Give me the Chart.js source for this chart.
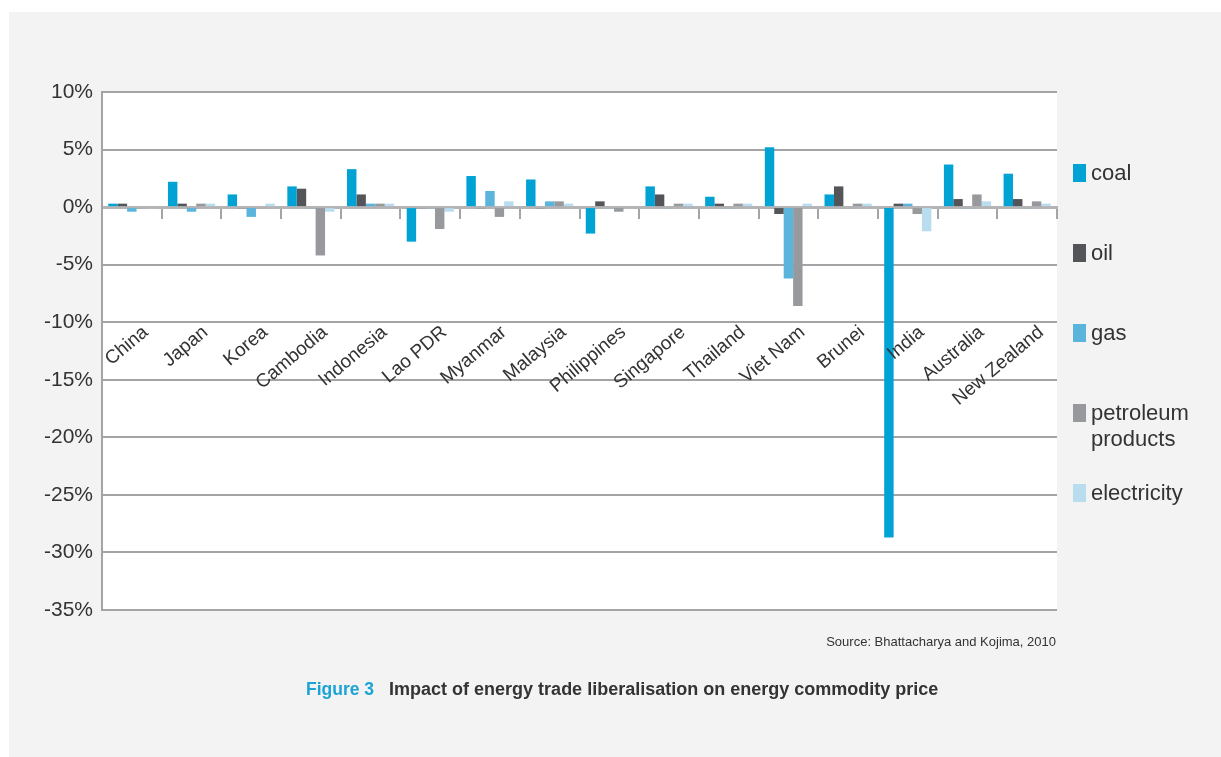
<!DOCTYPE html>
<html>
<head>
<meta charset="utf-8">
<script src="https://cdn.jsdelivr.net/npm/chart.js"></script>
<style>
    body { margin: 0; background: #ffffff; font-family: "Liberation Sans", Arial, sans-serif; }
    #panel { position: absolute; left: 9px; top: 12px; width: 1212px; height: 745px; background: #f2f3f2; }
    #chart { position: absolute; left: 0; top: 0; }
    .legend-item { position: absolute; left: 1073px; font-size: 22px; line-height: 26px; color: #333; }
    .legend-box { position: absolute; left: 0; top: 4px; width: 13px; height: 18px; }
    .legend-text { position: absolute; left: 18px; top: 0; white-space: pre; }
    #source { position: absolute; right: 165px; top: 634px; font-size: 13px; line-height: 16px; color: #333; }
    #title { position: absolute; left: 306px; top: 679px; font-size: 18px; line-height: 20px; font-weight: bold; color: #333; white-space: pre; }
    #title span { color: #1ba3d6; font-size: 17.5px; }
</style>
</head>
<body>
<div id="panel"></div>
<canvas id="chart" width="1221" height="757"></canvas>
<div id="legend"></div>
<div id="source">Source: Bhattacharya and Kojima, 2010</div>
<div id="title"><span>Figure 3</span>   Impact of energy trade liberalisation on energy commodity price</div>

<script>
// data (% change in price)
const countries = ['China', 'Japan', 'Korea', 'Cambodia', 'Indonesia', 'Lao PDR', 'Myanmar', 'Malaysia',
    'Philippines', 'Singapore', 'Thailand', 'Viet Nam', 'Brunei', 'India', 'Australia', 'New Zealand'];

const coal = [0.3, 2.2, 1.1, 1.8, 3.3, -3.0, 2.7, 2.4, -2.3, 1.8, 0.9, 5.2, 1.1, -28.7, 3.7, 2.9];
const oil = [0.3, 0.3, -0.1, 1.6, 1.1, -0.1, -0.1, -0.1, 0.5, 1.1, 0.3, -0.6, 1.8, 0.3, 0.7, 0.7];
const gas = [-0.4, -0.4, -0.85, -0.1, 0.3, -0.1, 1.4, 0.5, -0.1, -0.1, -0.1, -6.2, -0.1, 0.3, -0.1, -0.1];
const petroleum = [-0.1, 0.3, -0.1, -4.2, 0.3, -1.9, -0.85, 0.5, -0.4, 0.3, 0.3, -8.6, 0.3, -0.6, 1.1, 0.5];
const electricity = [-0.1, 0.3, 0.3, -0.4, 0.3, -0.4, 0.5, 0.3, -0.1, 0.3, 0.3, 0.3, 0.3, -2.1, 0.5, 0.3];

const seriesNames = ['coal', 'oil', 'gas', 'petroleum\nproducts', 'electricity'];
const seriesColors = ['#00a3d4', '#545558', '#5ab4dc', '#98999d', '#badcef'];
const yTicks = [10, 5, 0, -5, -10, -15, -20, -25, -30, -35];

const gridColor = '#a4a4a7';
const labelFont = '"Liberation Sans", Arial, sans-serif';

// white plot area
const plotBackground = {
    id: 'plotBackground',
    beforeDraw(chart) {
        const a = chart.chartArea;
        const ctx = chart.ctx;
        ctx.save();
        ctx.fillStyle = '#ffffff';
        ctx.fillRect(a.left, a.top, a.right - a.left, a.bottom - a.top);
        ctx.restore();
    }
};

function buildLegend() {
    const holder = document.getElementById('legend');
    seriesNames.forEach((name, i) => {
        const item = document.createElement('div');
        item.className = 'legend-item';
        item.style.top = (160 + i * 80) + 'px';
        const box = document.createElement('div');
        box.className = 'legend-box';
        box.style.background = seriesColors[i];
        const text = document.createElement('div');
        text.className = 'legend-text';
        text.textContent = name;
        item.appendChild(box);
        item.appendChild(text);
        holder.appendChild(item);
    });
}

function renderChart() {
    const series = [coal, oil, gas, petroleum, electricity];
    const datasets = series.map((values, i) => ({
        label: seriesNames[i],
        data: values,
        backgroundColor: seriesColors[i],
        borderWidth: 0,
        categoryPercentage: 0.79,
        barPercentage: 1.0
    }));

    new Chart(document.getElementById('chart'), {
        type: 'bar',
        data: { labels: countries, datasets: datasets },
        plugins: [plotBackground],
        options: {
            responsive: false,
            animation: false,
            layout: { padding: { top: 92, right: 164, bottom: 147, left: 0 } },
            plugins: {
                legend: { display: false },
                tooltip: { enabled: false }
            },
            scales: {
                x: {
                    position: { y: 0 },
                    // rotated labels sit inside the plot, so they should not push it inwards
                    afterFit: (scale) => {
                        scale.paddingLeft = 0;
                        scale.paddingRight = 0;
                    },
                    grid: {
                        drawOnChartArea: false,
                        drawTicks: true,
                        tickLength: 10,
                        color: gridColor,
                        lineWidth: 2
                    },
                    border: { display: true, color: '#b4b4b7', width: 3 },
                    ticks: {
                        z: 1,   // names go over the bars (India)
                        autoSkip: false,
                        minRotation: 40,
                        maxRotation: 40,
                        padding: 104,
                        labelOffset: 14,
                        color: '#333',
                        font: { family: labelFont, size: 19 }
                    }
                },
                y: {
                    min: yTicks[yTicks.length - 1],
                    max: yTicks[0],
                    afterBuildTicks: (scale) => {
                        scale.ticks = yTicks.map(v => ({ value: v }));
                    },
                    afterFit: (scale) => { scale.width = 102; },
                    grid: { color: gridColor, lineWidth: 2, drawTicks: false },
                    border: { display: true, color: gridColor, width: 2 },
                    ticks: {
                        padding: 9,
                        color: '#333',
                        font: { family: labelFont, size: 21 },
                        callback: (v) => v + '%'
                    }
                }
            }
        }
    });
}

buildLegend();
renderChart();
</script>
</body>
</html>
